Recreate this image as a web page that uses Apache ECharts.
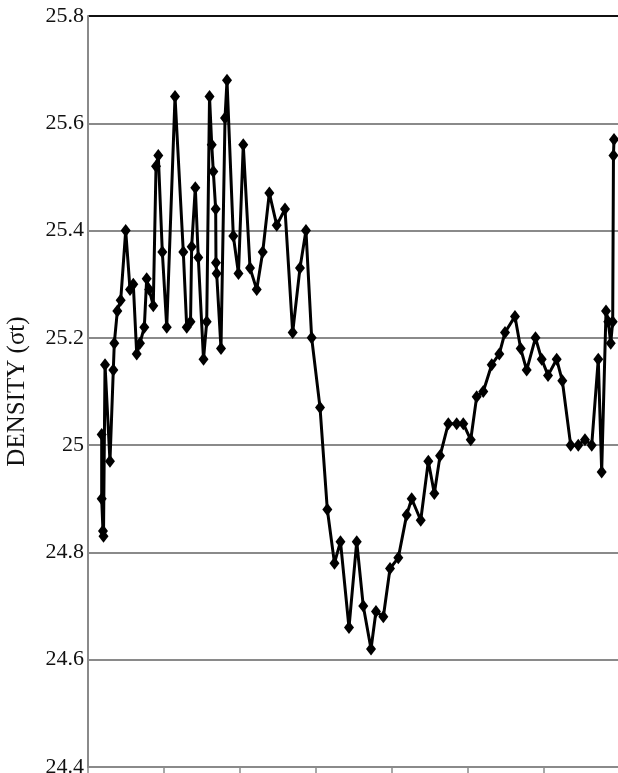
<!DOCTYPE html>
<html>
<head>
<meta charset="utf-8">
<script src="https://cdn.jsdelivr.net/npm/echarts@6/dist/echarts.min.js"></script>
<style>
  html, body { margin: 0; padding: 0; background: #fff; }
  #chart { width: 618px; height: 773px; }
</style>
</head>
<body>
<div id="chart"></div>
<script>
// x positions (axis units) and density values
var xPos = [
    0.180, 0.180, 0.197, 0.204, 0.224, 0.289, 0.333, 0.346, 0.386, 0.430,
    0.496, 0.553, 0.596, 0.641, 0.684, 0.741, 0.772, 0.805, 0.859, 0.895,
    0.925, 0.978, 1.036, 1.145, 1.254, 1.299, 1.349, 1.364, 1.412, 1.451,
    1.520, 1.562, 1.599, 1.628, 1.649, 1.680, 1.684, 1.693, 1.750, 1.803,
    1.829, 1.912, 1.980, 2.043, 2.132, 2.220, 2.299, 2.386, 2.483, 2.592,
    2.693, 2.789, 2.868, 2.943, 3.053, 3.149, 3.243, 3.322, 3.434, 3.536,
    3.622, 3.724, 3.789, 3.886, 3.974, 4.083, 4.193, 4.259, 4.378, 4.478,
    4.557, 4.632, 4.741, 4.851, 4.938, 5.036, 5.114, 5.201, 5.312, 5.412,
    5.487, 5.618, 5.693, 5.772, 5.888, 5.970, 6.053, 6.167, 6.241, 6.351,
    6.451, 6.539, 6.628, 6.714, 6.759, 6.816, 6.846, 6.878, 6.904, 6.914,
    6.921
];
var density = [
    25.02, 24.90, 24.84, 24.83, 25.15, 24.97, 25.14, 25.19, 25.25, 25.27,
    25.40, 25.29, 25.30, 25.17, 25.19, 25.22, 25.31, 25.29, 25.26, 25.52,
    25.54, 25.36, 25.22, 25.65, 25.36, 25.22, 25.23, 25.37, 25.48, 25.35,
    25.16, 25.23, 25.65, 25.56, 25.51, 25.44, 25.34, 25.32, 25.18, 25.61,
    25.68, 25.39, 25.32, 25.56, 25.33, 25.29, 25.36, 25.47, 25.41, 25.44,
    25.21, 25.33, 25.40, 25.20, 25.07, 24.88, 24.78, 24.82, 24.66, 24.82,
    24.70, 24.62, 24.69, 24.68, 24.77, 24.79, 24.87, 24.90, 24.86, 24.97,
    24.91, 24.98, 25.04, 25.04, 25.04, 25.01, 25.09, 25.10, 25.15, 25.17,
    25.21, 25.24, 25.18, 25.14, 25.20, 25.16, 25.13, 25.16, 25.12, 25.00,
    25.00, 25.01, 25.00, 25.16, 24.95, 25.25, 25.23, 25.19, 25.23, 25.54,
    25.57
];
var yTicks = ['24.4', '24.6', '24.8', '25', '25.2', '25.4', '25.6', '25.8'];

var chartDom = document.getElementById('chart');
var myChart = echarts.init(chartDom);

var points = [];
xPos.forEach(function (x, i) {
    points.push([x, density[i]]);
});

// top gridline is darker, like a frame
var gridColors = yTicks.map(function (t, i) {
    return i == yTicks.length - 1 ? '#111' : '#8a8a8a';
});

var option = {
    animation: false,
    backgroundColor: '#fff',
    grid: {
        left: 88,
        top: 16,
        bottom: 6,
        width: 532,
        containLabel: false,
        outerBoundsMode: 'none'
    },
    xAxis: {
        type: 'value',
        min: 0,
        max: 7,
        interval: 1,
        axisLine: {
            show: true,
            onZero: false,
            lineStyle: { color: '#8a8a8a', width: 2 }
        },
        axisTick: {
            show: true,
            inside: false,
            length: 6,
            lineStyle: { color: '#8a8a8a', width: 1.5 }
        },
        axisLabel: { show: false },
        splitLine: { show: false }
    },
    yAxis: {
        type: 'value',
        min: 24.4,
        max: 25.8,
        interval: 0.2,
        name: 'DENSITY (σt)',
        nameLocation: 'middle',
        nameGap: 58,
        nameRotate: 90,
        nameTextStyle: {
            fontFamily: 'Liberation Serif',
            fontSize: 25,
            color: '#111'
        },
        axisLine: {
            show: true,
            lineStyle: { color: '#8a8a8a', width: 2 }
        },
        axisTick: { show: false },
        axisLabel: {
            margin: 4,
            fontFamily: 'Liberation Serif',
            fontSize: 22,
            color: '#111',
            formatter: function (v) {
                return String(parseFloat(v.toFixed(1)));
            }
        },
        splitLine: {
            show: true,
            lineStyle: { color: gridColors, width: 2 }
        }
    },
    series: [
        {
            type: 'line',
            data: points,
            symbol: 'diamond',
            symbolSize: [10, 13],
            showAllSymbol: true,
            lineStyle: { color: '#000', width: 3 },
            itemStyle: { color: '#000' }
        }
    ]
};

option && myChart.setOption(option);
new ResizeObserver(() => myChart.resize()).observe(chartDom);
</script>
</body>
</html>
